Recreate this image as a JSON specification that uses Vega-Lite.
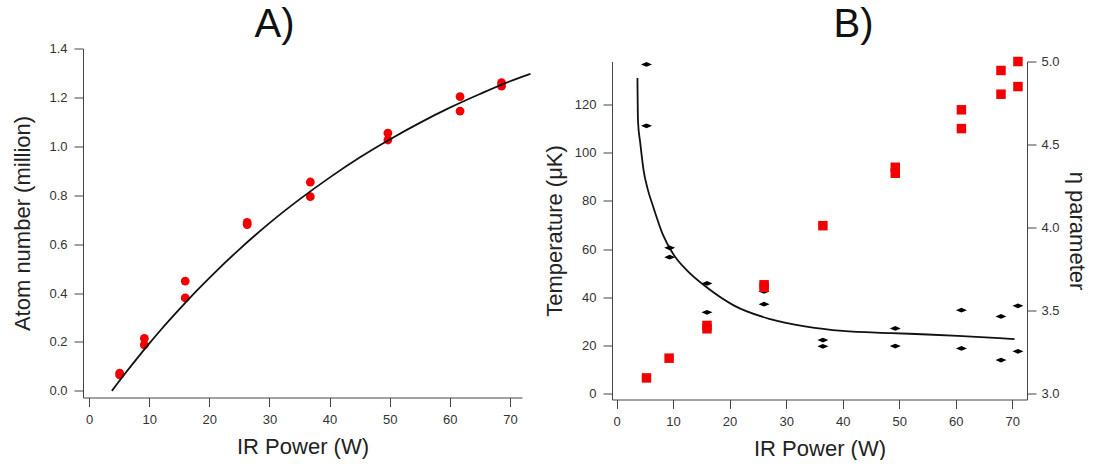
{
  "$schema": "https://vega.github.io/schema/vega-lite/v6.json",
  "padding": {"left": 11, "top": 4.5, "right": 0, "bottom": 0},
  "spacing": 8,
  "datasets": {
    "curveA": [
      {"p": 3.8, "n": 0.0}, {"p": 6, "n": 0.071}, {"p": 8, "n": 0.133}, {"p": 10, "n": 0.193},
      {"p": 12, "n": 0.251}, {"p": 15, "n": 0.333}, {"p": 18, "n": 0.412}, {"p": 21, "n": 0.486},
      {"p": 25, "n": 0.579}, {"p": 30, "n": 0.686}, {"p": 35, "n": 0.783}, {"p": 40, "n": 0.872},
      {"p": 45, "n": 0.954}, {"p": 50, "n": 1.028}, {"p": 55, "n": 1.096}, {"p": 60, "n": 1.158},
      {"p": 65, "n": 1.214}, {"p": 70, "n": 1.266}, {"p": 73.4, "n": 1.296}
    ],
    "pointsA": [
      {"p": 5.1, "n": 0.073}, {"p": 5.1, "n": 0.065}, {"p": 9.2, "n": 0.215}, {"p": 9.2, "n": 0.188},
      {"p": 16.0, "n": 0.449}, {"p": 16.0, "n": 0.38}, {"p": 26.3, "n": 0.689}, {"p": 26.3, "n": 0.68},
      {"p": 36.8, "n": 0.854}, {"p": 36.8, "n": 0.794}, {"p": 49.7, "n": 1.054}, {"p": 49.7, "n": 1.026},
      {"p": 61.7, "n": 1.203}, {"p": 61.7, "n": 1.144}, {"p": 68.6, "n": 1.26}, {"p": 68.6, "n": 1.246}
    ],
    "curveB": [
      {"p": 3.7, "t": 131}, {"p": 3.8, "t": 113}, {"p": 4.2, "t": 104}, {"p": 4.8, "t": 92.5},
      {"p": 5.5, "t": 85}, {"p": 6.5, "t": 77.5}, {"p": 8.2, "t": 66}, {"p": 10, "t": 58},
      {"p": 12.5, "t": 51}, {"p": 16, "t": 44}, {"p": 20.8, "t": 36.5}, {"p": 27, "t": 31},
      {"p": 33.6, "t": 27.8}, {"p": 40, "t": 26}, {"p": 48.6, "t": 25.1}, {"p": 55, "t": 24.5},
      {"p": 62, "t": 23.7}, {"p": 67.7, "t": 23}, {"p": 70.4, "t": 22.6}
    ],
    "tempB": [
      {"p": 5.3, "t": 136.7}, {"p": 5.3, "t": 111.2}, {"p": 9.4, "t": 60.5}, {"p": 9.4, "t": 56.6},
      {"p": 16.0, "t": 45.7}, {"p": 16.0, "t": 33.7}, {"p": 26.1, "t": 42.4}, {"p": 26.1, "t": 37.1},
      {"p": 36.5, "t": 22.2}, {"p": 36.5, "t": 19.6}, {"p": 49.3, "t": 27.0}, {"p": 49.3, "t": 19.7},
      {"p": 61.0, "t": 34.6}, {"p": 61.0, "t": 18.7}, {"p": 68.0, "t": 32.0}, {"p": 68.0, "t": 13.9},
      {"p": 71.0, "t": 36.4}, {"p": 71.0, "t": 17.5}
    ],
    "etaB": [
      {"p": 5.3, "eta": 3.094}, {"p": 9.3, "eta": 3.213}, {"p": 16.0, "eta": 3.39}, {"p": 16.0, "eta": 3.41},
      {"p": 26.1, "eta": 3.64}, {"p": 26.1, "eta": 3.655}, {"p": 36.5, "eta": 4.011},
      {"p": 49.3, "eta": 4.363}, {"p": 49.3, "eta": 4.327}, {"p": 61.0, "eta": 4.709}, {"p": 61.0, "eta": 4.596},
      {"p": 68.0, "eta": 4.946}, {"p": 68.0, "eta": 4.803}, {"p": 71.0, "eta": 5.0}, {"p": 71.0, "eta": 4.849}
    ]
  },
  "hconcat": [
    {
      "width": 439,
      "height": 349,
      "title": {"text": "A)", "dx": -28, "offset": -2.7},
      "layer": [
        {
          "data": {"name": "pointsA"},
          "mark": {"type": "circle", "color": "#f20000", "opacity": 1, "size": 78},
          "encoding": {
            "x": {"field": "p", "type": "quantitative",
              "scale": {"domain": [-1, 72], "nice": false, "zero": false},
              "axis": {"values": [0, 10, 20, 30, 40, 50, 60, 70], "title": "IR Power (W)", "titlePadding": 10}},
            "y": {"field": "n", "type": "quantitative",
              "scale": {"domain": [-0.027, 1.4], "nice": false, "zero": false},
              "axis": {"values": [0, 0.2, 0.4, 0.6, 0.8, 1.0, 1.2, 1.4], "format": ".1f", "title": "Atom number (million)", "titlePadding": 14}}
          }
        },
        {
          "data": {"name": "curveA"},
          "mark": {"type": "line", "color": "#111", "strokeWidth": 1.8, "interpolate": "monotone"},
          "encoding": {
            "x": {"field": "p", "type": "quantitative"},
            "y": {"field": "n", "type": "quantitative"}
          }
        }
      ]
    },
    {
      "spacing": 0,
      "vconcat": [
        {
          "width": 415,
          "height": 6.5,
          "title": {"text": "B)", "dx": 34, "offset": 3.8},
          "data": {"values": []},
          "mark": {"type": "point", "opacity": 0},
          "encoding": {}
        },
        {
          "width": 415,
          "height": 338,
          "resolve": {"scale": {"y": "independent"}, "axis": {"y": "independent"}},
          "layer": [
            {
              "layer": [
                {
                  "data": {"name": "curveB"},
                  "mark": {"type": "line", "color": "#111", "strokeWidth": 1.8, "interpolate": "monotone"},
                  "encoding": {
                    "x": {"field": "p", "type": "quantitative",
                      "scale": {"domain": [-0.8, 72.6], "nice": false, "zero": false},
                      "axis": {"values": [0, 10, 20, 30, 40, 50, 60, 70], "title": "IR Power (W)", "titlePadding": 10}},
                    "y": {"field": "t", "type": "quantitative",
                      "scale": {"domain": [-2.5, 137.9], "nice": false, "zero": false},
                      "axis": {"values": [0, 20, 40, 60, 80, 100, 120], "title": "Temperature (μK)", "titlePadding": 8}}
                  }
                },
                {
                  "data": {"name": "tempB"},
                  "mark": {"type": "point", "filled": true, "color": "#000", "opacity": 1, "size": 121, "shape": "M-1,0L0,-0.43L1,0L0,0.43Z"},
                  "encoding": {
                    "x": {"field": "p", "type": "quantitative"},
                    "y": {"field": "t", "type": "quantitative"}
                  }
                }
              ]
            },
            {
              "data": {"name": "etaB"},
              "mark": {"type": "square", "color": "#f20000", "opacity": 1, "size": 90},
              "encoding": {
                "x": {"field": "p", "type": "quantitative"},
                "y": {"field": "eta", "type": "quantitative",
                  "scale": {"domain": [2.964, 5.0], "nice": false, "zero": false},
                  "axis": {"orient": "right", "values": [3.0, 3.5, 4.0, 4.5, 5.0], "format": ".1f", "title": "η parameter", "labelPadding": 5, "titlePadding": 5}}
              }
            }
          ]
        }
      ]
    }
  ],
  "config": {
    "font": "Liberation Sans",
    "view": {"stroke": null},
    "axis": {
      "grid": false, "domainColor": "#444", "tickColor": "#444", "labelColor": "#333",
      "labelFontSize": 13, "titleFontSize": 22, "titleFontWeight": "normal", "titleColor": "#222",
      "tickSize": 9, "labelPadding": 7, "labelFont": "Liberation Sans", "titleFont": "Liberation Sans"
    },
    "title": {"fontSize": 40, "fontWeight": "normal", "color": "#111", "font": "Liberation Sans"}
  }
}
